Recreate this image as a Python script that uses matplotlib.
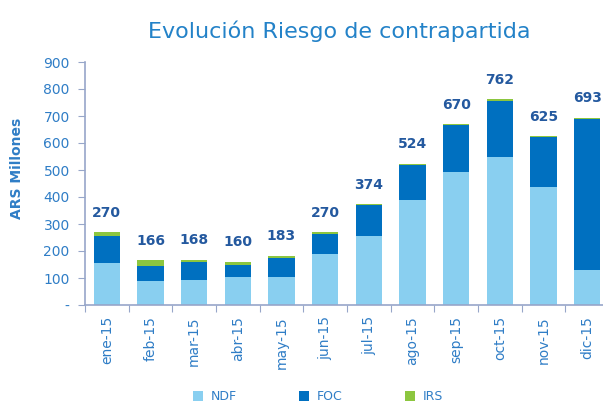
import matplotlib
matplotlib.use("Agg")
import matplotlib.pyplot as plt
import numpy as np

months = ["ene-15", "feb-15", "mar-15", "abr-15", "may-15", "jun-15",
          "jul-15", "ago-15", "sep-15", "oct-15", "nov-15", "dic-15"]
ndf = [157, 88, 92, 103, 103, 189, 257, 388, 492, 549, 437, 129]
foc = [97, 58, 66, 45, 70, 75, 112, 130, 173, 208, 184, 560]
irs = [16, 20, 10, 12, 10, 6, 5, 6, 5, 5, 4, 4]
totals = [270, 166, 168, 160, 183, 270, 374, 524, 670, 762, 625, 693]
yticks = [0, 100, 200, 300, 400, 500, 600, 700, 800, 900]
ytick_labels = ["-", "100", "200", "300", "400", "500", "600", "700", "800", "900"]

c_ndf = "#89CFF0"
c_foc = "#0070C0"
c_irs = "#8CC63F"
c_tick = "#2F7DC6"
c_lab = "#24599F"
c_spine = "#97A6C9"

fig = plt.figure(figsize=(6.03, 4.03), dpi=100)
ax = fig.add_axes([85/603, 1-305/403, 524/603, (305-62)/403])

x = np.arange(len(months))
w = 0.6
ax.bar(x, ndf, w, color=c_ndf, label="NDF")
ax.bar(x, foc, w, bottom=ndf, color=c_foc, label="FOC")
bot2 = np.array(ndf) + np.array(foc)
ax.bar(x, irs, w, bottom=bot2, color=c_irs, label="IRS")

top = bot2 + np.array(irs)
for xi, t, lab in zip(x, top, totals):
    ax.annotate(str(lab), (xi, t), xytext=(0, 14), textcoords="offset points",
                ha="center", va="center", fontsize=10, fontweight="bold", color=c_lab)

ax.set_xlim(-0.5, 11.5)
ax.set_ylim(0, 900)
ax.set_yticks(yticks)
ax.set_yticklabels(ytick_labels)
ax.set_xticks(np.arange(-0.5, 12, 1), minor=False)
ax.set_xticklabels([])
ax.set_xticks(x, minor=True)
ax.set_xticklabels(months, minor=True, rotation=90)
ax.tick_params(axis="x", which="major", length=5, color=c_spine, direction="out")
ax.tick_params(axis="x", which="minor", length=0, pad=8, labelsize=10, labelcolor=c_tick)
ax.tick_params(axis="y", length=5, color=c_spine, labelsize=10, labelcolor=c_tick, pad=6)

for s in ["top", "right"]:
    ax.spines[s].set_visible(False)
for s in ["left", "bottom"]:
    ax.spines[s].set_color(c_spine)
    ax.spines[s].set_linewidth(1.2)

fig.text(339/603, 1-31/403, "Evolución Riesgo de contrapartida", ha="center", va="center",
         fontsize=16, color="#2382C8")
fig.text(17/603, 1-168/403, "ARS Millones", rotation=90, ha="center", va="center",
         fontsize=10, fontweight="bold", color=c_tick)

handles, labels = ax.get_legend_handles_labels()
leg = fig.legend(handles, labels, loc="center", bbox_to_anchor=(318/603, 1-397/403),
                 ncol=3, frameon=False, fontsize=9, handlelength=0.8, handleheight=0.8,
                 columnspacing=5.0, handletextpad=0.6, borderaxespad=0, borderpad=0)
for t in leg.get_texts():
    t.set_color(c_tick)

fig.savefig("out.png", dpi=100)
